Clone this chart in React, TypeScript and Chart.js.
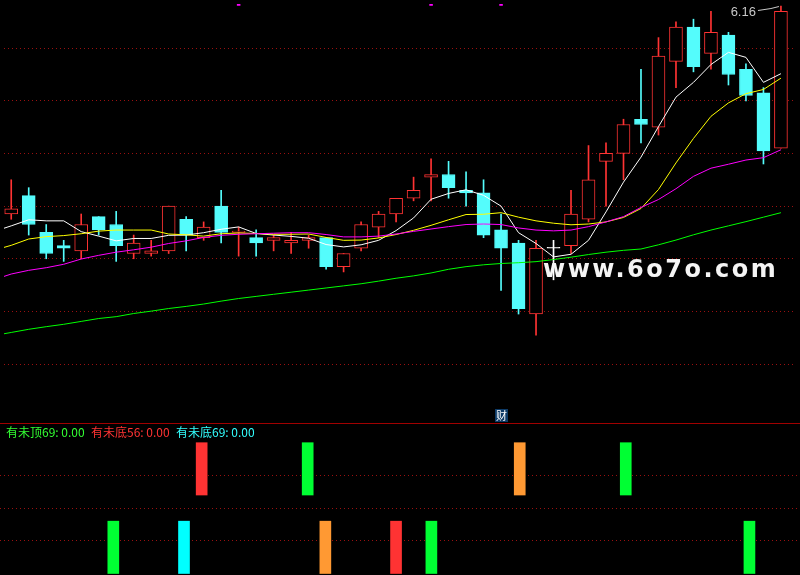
import React, { useEffect, useRef } from 'react';
import { Chart, registerables } from 'chart.js';

Chart.register(...registerables);

// ---------- data ----------
const OPEN = [5.37, 5.44, 5.30, 5.25, 5.23, 5.36, 5.33, 5.22, 5.22, 5.23, 5.35, 5.28, 5.40, 5.30, 5.28, 5.27, 5.26, 5.27, 5.28, 5.17, 5.24, 5.32, 5.37, 5.43, 5.51, 5.52, 5.46, 5.45, 5.31, 5.26, 4.99, 5.24, 5.25, 5.35, 5.57, 5.60, 5.73, 5.70, 5.95, 6.08, 5.98, 6.05, 5.92, 5.83, 5.62];
const HIGH = [5.50, 5.47, 5.33, 5.27, 5.37, 5.36, 5.38, 5.29, 5.27, 5.40, 5.36, 5.34, 5.46, 5.32, 5.31, 5.29, 5.30, 5.29, 5.28, 5.22, 5.34, 5.38, 5.43, 5.51, 5.58, 5.57, 5.53, 5.50, 5.37, 5.27, 5.27, 5.27, 5.46, 5.63, 5.64, 5.73, 5.92, 6.04, 6.10, 6.11, 6.14, 6.06, 5.94, 5.85, 6.16];
const LOW = [5.35, 5.29, 5.20, 5.19, 5.20, 5.29, 5.19, 5.20, 5.21, 5.22, 5.23, 5.27, 5.26, 5.21, 5.21, 5.23, 5.22, 5.24, 5.16, 5.15, 5.23, 5.28, 5.34, 5.42, 5.42, 5.43, 5.40, 5.28, 5.08, 4.99, 4.91, 5.12, 5.22, 5.34, 5.40, 5.50, 5.64, 5.67, 5.85, 5.91, 5.92, 5.86, 5.80, 5.56, 5.62];
const CLOSE = [5.39, 5.33, 5.22, 5.24, 5.33, 5.31, 5.25, 5.26, 5.23, 5.40, 5.29, 5.32, 5.30, 5.305, 5.26, 5.28, 5.27, 5.28, 5.17, 5.22, 5.33, 5.37, 5.43, 5.46, 5.52, 5.47, 5.45, 5.29, 5.24, 5.01, 5.24, 5.24, 5.37, 5.50, 5.60, 5.71, 5.71, 5.97, 6.08, 5.93, 6.06, 5.90, 5.82, 5.61, 6.14];

// moving averages, first value belongs to the day before the first candle
const MA_FIRST_INDEX = -1;
const MA5 = [5.303, 5.325, 5.348, 5.344, 5.344, 5.303, 5.286, 5.268, 5.277, 5.277, 5.289, 5.290, 5.299, 5.312, 5.321, 5.296, 5.290, 5.285, 5.278, 5.254, 5.245, 5.253, 5.270, 5.307, 5.355, 5.426, 5.448, 5.462, 5.441, 5.400, 5.299, 5.258, 5.207, 5.217, 5.270, 5.378, 5.491, 5.586, 5.702, 5.814, 5.870, 5.938, 5.984, 5.965, 5.870, 5.903];
const MA10 = [5.232, 5.251, 5.275, 5.284, 5.288, 5.295, 5.305, 5.309, 5.309, 5.309, 5.294, 5.291, 5.286, 5.295, 5.298, 5.296, 5.293, 5.293, 5.294, 5.281, 5.270, 5.271, 5.279, 5.292, 5.308, 5.327, 5.348, 5.368, 5.369, 5.375, 5.358, 5.344, 5.335, 5.329, 5.332, 5.340, 5.357, 5.391, 5.463, 5.564, 5.657, 5.741, 5.792, 5.827, 5.843, 5.886];
const MA20 = [5.120, 5.142, 5.156, 5.166, 5.179, 5.199, 5.213, 5.225, 5.234, 5.244, 5.258, 5.268, 5.281, 5.289, 5.293, 5.295, 5.297, 5.299, 5.299, 5.292, 5.283, 5.283, 5.286, 5.294, 5.304, 5.313, 5.322, 5.330, 5.332, 5.330, 5.317, 5.309, 5.306, 5.309, 5.322, 5.340, 5.360, 5.395, 5.425, 5.466, 5.513, 5.544, 5.559, 5.575, 5.584, 5.614];
const MA60 = [4.908, 4.920, 4.932, 4.942, 4.951, 4.962, 4.973, 4.980, 4.992, 5.001, 5.011, 5.019, 5.028, 5.039, 5.049, 5.057, 5.065, 5.073, 5.081, 5.089, 5.097, 5.105, 5.115, 5.126, 5.135, 5.146, 5.160, 5.170, 5.177, 5.182, 5.185, 5.189, 5.197, 5.206, 5.216, 5.225, 5.232, 5.237, 5.253, 5.271, 5.291, 5.309, 5.325, 5.341, 5.358, 5.375];

const PRICE_GRID = [6.0, 5.8, 5.6, 5.4, 5.2, 5.0, 4.8];
const PRICE_MIN = 4.5913;
const PRICE_MAX = 6.1677;
const X_MIN = -0.413;
const X_MAX = 44.861;
const TOP_MARKS = [13, 24, 28];

// indicator panel
const SIG_UPPER = [2.4, 4.0];
const SIG_LOWER = [0, 1.6];
const UPPER_RED = [11];
const UPPER_GREEN = [17, 35];
const UPPER_ORANGE = [29];
const LOWER_GREEN = [6, 24, 42];
const LOWER_CYAN = [10];
const LOWER_ORANGE = [18];
const LOWER_RED = [22];
const IND_GRID = [1, 2, 3];
const IND_MIN = -0.046;
const IND_MAX = 4.572;
const LEGEND_TEXT = ['有未顶69: 0.00', '有未底56: 0.00', '有未底69: 0.00'];

// ---------- styles ----------
const RED = '#ff3333';
const CYAN = '#54fcfc';
const WHITE = '#ffffff';
const GRID_COLOR = '#9a1010';
const LEGEND_COLORS = ['#33ff33', '#ff3333', '#33ffff'];
const LEGEND_LEFT = [6, 91, 176];

const candleColor = (i: number) =>
  CLOSE[i] > OPEN[i] ? RED : CLOSE[i] < OPEN[i] ? CYAN : WHITE;

const maData = (arr: number[]) => arr.map((v, k) => ({ x: k + MA_FIRST_INDEX, y: v }));

const overlayPlugin = {
  id: 'overlayText',
  afterDatasetsDraw(chart: any) {
    const { ctx, scales } = chart;
    const maxHigh = Math.max(...HIGH);
    const idx = HIGH.indexOf(maxHigh);
    const hx = scales.x.getPixelForValue(idx);
    const hy = scales.y.getPixelForValue(maxHigh);
    ctx.save();
    ctx.strokeStyle = '#c8c8c8';
    ctx.lineWidth = 1;
    ctx.beginPath();
    ctx.moveTo(hx - 23, hy + 4.5);
    ctx.lineTo(hx - 10, hy + 2.5);
    ctx.lineTo(hx - 2, hy + 0.5);
    ctx.stroke();
    ctx.fillStyle = '#c8c8c8';
    ctx.font = '13px "Liberation Sans"';
    ctx.textAlign = 'right';
    ctx.textBaseline = 'alphabetic';
    ctx.fillText(maxHigh.toFixed(2), hx - 25, hy + 9.5);
    // watermark
    ctx.textAlign = 'left';
    ctx.font = 'bold 24px "DejaVu Sans"';
    try { (ctx as any).letterSpacing = '2.5px'; } catch (e) {}
    ctx.fillStyle = '#f4f4f4';
    ctx.fillText('www.6o7o.com', 543, 277);
    ctx.restore();
  },
};

function gridAxis(min: number, max: number, values: number[]) {
  return {
    type: 'linear' as const,
    min,
    max,
    display: true,
    ticks: { display: false },
    grid: { color: GRID_COLOR, drawTicks: false, lineWidth: 1 },
    border: { display: false, dash: [1, 3] },
    afterBuildTicks: (axis: any) => {
      axis.ticks = values.map((v) => ({ value: v }));
    },
  };
}

const xAxis = {
  type: 'linear' as const,
  min: X_MIN,
  max: X_MAX,
  display: false,
  offset: false,
};

function signalSet(idx: number[], range: number[], color: string) {
  return {
    type: 'bar' as const,
    data: idx.map((i) => ({ x: i, y: range })),
    backgroundColor: color,
    borderWidth: 0,
    barThickness: 11,
    grouped: false,
  };
}

export default function App() {
  const topRef = useRef<HTMLCanvasElement>(null);
  const botRef = useRef<HTMLCanvasElement>(null);

  useEffect(() => {
    const colors = OPEN.map((_, i) => candleColor(i));
    const lineSet = (arr: number[], color: string) => ({
      type: 'line' as const,
      data: maData(arr),
      borderColor: color,
      borderWidth: 1,
      pointRadius: 0,
      tension: 0,
      fill: false,
      order: 1,
    });
    const top = new Chart(topRef.current as HTMLCanvasElement, {
      type: 'bar',
      data: {
        datasets: [
          {
            type: 'bar',
            data: HIGH.map((h, i) => ({ x: i, y: [LOW[i], h] })) as any,
            backgroundColor: colors,
            borderWidth: 0,
            barThickness: 1,
            grouped: false,
            order: 3,
          },
          {
            type: 'bar',
            data: OPEN.map((o, i) => ({ x: i, y: [o, CLOSE[i]] })) as any,
            backgroundColor: OPEN.map((o, i) => (CLOSE[i] > o ? '#000000' : colors[i])),
            borderColor: colors,
            borderWidth: 1,
            borderSkipped: false,
            barThickness: 13,
            grouped: false,
            minBarLength: 1,
            order: 2,
          },
          lineSet(MA60, '#00ff00'),
          lineSet(MA20, '#ff00ff'),
          lineSet(MA10, '#ffff00'),
          lineSet(MA5, '#ffffff'),
          {
            type: 'line',
            data: TOP_MARKS.map((i) => ({ x: i, y: PRICE_MAX })),
            showLine: false,
            pointStyle: 'rect',
            pointRadius: 2.5,
            pointBorderWidth: 0,
            pointBackgroundColor: '#ff00ff',
            order: 0,
          } as any,
        ] as any,
      },
      options: {
        responsive: false,
        maintainAspectRatio: false,
        animation: false,
        layout: { padding: 0 },
        plugins: { legend: { display: false }, tooltip: { enabled: false } },
        scales: {
          x: xAxis,
          y: gridAxis(PRICE_MIN, PRICE_MAX, PRICE_GRID),
        } as any,
      },
      plugins: [overlayPlugin],
    });

    const bot = new Chart(botRef.current as HTMLCanvasElement, {
      type: 'bar',
      data: {
        datasets: [
          signalSet(UPPER_RED, SIG_UPPER, '#ff3333'),
          signalSet(UPPER_GREEN, SIG_UPPER, '#00ff33'),
          signalSet(UPPER_ORANGE, SIG_UPPER, '#ff9933'),
          signalSet(LOWER_GREEN, SIG_LOWER, '#00ff33'),
          signalSet(LOWER_CYAN, SIG_LOWER, '#00ffff'),
          signalSet(LOWER_ORANGE, SIG_LOWER, '#ff9933'),
          signalSet(LOWER_RED, SIG_LOWER, '#ff3333'),
        ] as any,
      },
      options: {
        responsive: false,
        maintainAspectRatio: false,
        animation: false,
        layout: { padding: 0 },
        plugins: { legend: { display: false }, tooltip: { enabled: false } },
        scales: {
          x: xAxis,
          y: gridAxis(IND_MIN, IND_MAX, IND_GRID),
        } as any,
      },
    });

    return () => {
      top.destroy();
      bot.destroy();
    };
  }, []);

  return (
    <div
      style={{
        position: 'fixed',
        left: 0,
        top: 0,
        width: 800,
        height: 575,
        background: '#000',
        overflow: 'hidden',
      }}
    >
      <canvas
        ref={topRef}
        width={800}
        height={423}
        style={{ position: 'absolute', left: 0, top: 0, width: 800, height: 423 }}
      />
      <div
        style={{
          position: 'absolute',
          left: 495,
          top: 409,
          width: 13,
          height: 13,
          background: '#0d3a66',
          color: '#ffffff',
          font: '11px "Noto Sans CJK SC"',
          lineHeight: '13px',
          textAlign: 'center',
        }}
      >
        财
      </div>
      <div style={{ position: 'absolute', left: 0, top: 423, width: 800, height: 1, background: '#a00000' }} />
      <canvas
        ref={botRef}
        width={800}
        height={151}
        style={{ position: 'absolute', left: 0, top: 424, width: 800, height: 151 }}
      />
      {LEGEND_TEXT.map((t, k) => (
        <span
          key={k}
          style={{
            position: 'absolute',
            left: LEGEND_LEFT[k],
            top: 425,
            color: LEGEND_COLORS[k],
            font: '12px "Noto Sans CJK SC"',
            lineHeight: '14px',
            whiteSpace: 'nowrap',
          }}
        >
          {t}
        </span>
      ))}
    </div>
  );
}
